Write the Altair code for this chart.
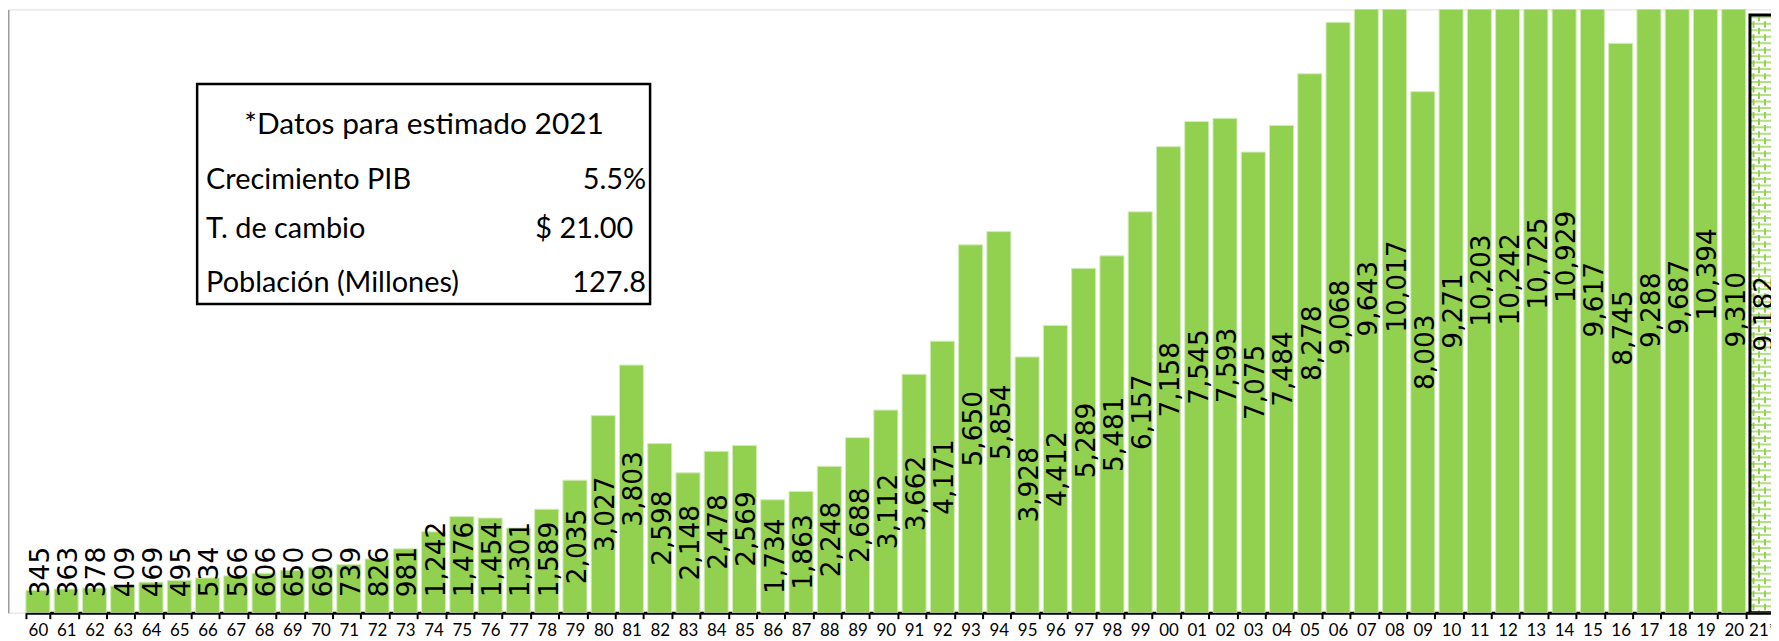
import altair as alt
import pandas as pd

# ---- data ----
years = ["60", "61", "62", "63", "64", "65", "66", "67", "68", "69",
         "70", "71", "72", "73", "74", "75", "76", "77", "78", "79",
         "80", "81", "82", "83", "84", "85", "86", "87", "88", "89",
         "90", "91", "92", "93", "94", "95", "96", "97", "98", "99",
         "00", "01", "02", "03", "04", "05", "06", "07", "08", "09",
         "10", "11", "12", "13", "14", "15", "16", "17", "18", "19",
         "20", "21*"]
values = [345, 363, 378, 409, 469, 495, 534, 566, 606, 650,
          690, 739, 826, 981, 1242, 1476, 1454, 1301, 1589, 2035,
          3027, 3803, 2598, 2148, 2478, 2569, 1734, 1863, 2248, 2688,
          3112, 3662, 4171, 5650, 5854, 3928, 4412, 5289, 5481, 6157,
          7158, 7545, 7593, 7075, 7484, 8278, 9068, 9643, 10017, 8003,
          9271, 10203, 10242, 10725, 10929, 9617, 8745, 9288, 9687, 10394,
          9310, 9182]
estimated = [False] * 61 + [True]

box_title = "*Datos para estimado 2021"
box_rows = ["Crecimiento PIB", "T. de cambio", "Población (Millones)"]
box_vals = ["5.5%", "$ 21.00", "127.8"]

# ---- layout ----
W = 1771
H = 606
YMAX = 9266
PX = H / YMAX
GREEN = "#92D050"
LFS = 26.5  # bar label font size

df = pd.DataFrame({"year": years, "value": values, "est": estimated})

xenc = alt.X(
    "year:N", sort=years,
    scale=alt.Scale(range=[18, 1774], paddingInner=0.15, paddingOuter=0),
    axis=alt.Axis(title=None, labelFont="Lato", labelFontSize=17, labelColor="black",
                  labelAngle=0, domainColor="black", domainWidth=3, tickColor="black",
                  tickWidth=2, tickSize=6, tickBand="extent", labelPadding=4),
)
yscale = alt.Scale(domain=[0, YMAX], nice=False, zero=True)
yaxis = alt.Axis(title=None, labels=False, ticks=False, grid=False,
                 domainColor="#9a9a9a", domainWidth=2)

base = alt.Chart(df)

bars = base.transform_filter("!datum.est").mark_bar(
    color=GREEN, stroke="#d2ecb8", strokeWidth=1, clip=True
).encode(x=xenc, y=alt.Y("value:Q", scale=yscale, axis=yaxis))

est_fill = base.transform_filter("datum.est").mark_bar(
    fill="white", clip=True
).encode(x=xenc, y=alt.Y("value:Q", scale=yscale, axis=yaxis))

brick_rows = alt.Chart(
    alt.sequence(start=0, stop=values[-1], step=99.4, as_="v")
).transform_calculate(year='"21*"').mark_tick(
    orient="horizontal", color=GREEN, thickness=2, size=24, clip=True
).encode(x=xenc, y=alt.Y("v:Q", scale=yscale, axis=yaxis))

joints = []
for off, dash_off in [(-3, 0), (-8.5, 6.5), (3, 6.5)]:
    joints.append(
        base.transform_filter("datum.est").mark_rule(
            color=GREEN, strokeWidth=2, strokeDash=[6.5, 6.5],
            strokeDashOffset=dash_off, xOffset=off, clip=True
        ).encode(x=xenc, y=alt.Y("value:Q", scale=yscale, axis=yaxis), y2=alt.datum(0))
    )

est_outline = base.transform_filter("datum.est").mark_bar(
    fillOpacity=0, stroke="black", strokeWidth=3, clip=True
).encode(x=xenc, y=alt.Y("value:Q", scale=yscale, axis=yaxis))

labels = base.transform_calculate(
    lab="format(datum.value, ',')"
).transform_calculate(
    halfpx=f"(length(toString(datum.value)) * {0.636 * LFS} + (datum.value >= 1000 ? {0.318 * LFS} : 0)) / 2"
).transform_calculate(
    ypos=f"max(datum.value / 2, (15.6 + datum.halfpx) / {PX})"
).mark_text(
    angle=270, align="center", baseline="middle", font="DejaVu Sans",
    fontSize=LFS, color="black", dy=3, clip=True
).encode(x=xenc, y=alt.Y("ypos:Q", scale=yscale, axis=yaxis), text="lab:N")

one = alt.Chart(pd.DataFrame({"a": [0]}))
box = one.mark_rect(fill="white", stroke="black", strokeWidth=2.5).encode(
    x=alt.value(190), x2=alt.value(645), y=alt.value(75), y2=alt.value(296)
)

txt = [one.mark_text(font="Lato", fontSize=30, color="black", align="center",
                     baseline="alphabetic").encode(
    x=alt.value(418), y=alt.value(125), text=alt.value(box_title))]
row_y = [180, 230, 284]
val_x = [641, 628, 641]
for lab, val, ry, vx in zip(box_rows, box_vals, row_y, val_x):
    txt.append(one.mark_text(font="Lato", fontSize=29, color="black", align="left",
                             baseline="alphabetic").encode(
        x=alt.value(199), y=alt.value(ry), text=alt.value(lab)))
    txt.append(one.mark_text(font="Lato", fontSize=29, color="black", align="right",
                             baseline="alphabetic").encode(
        x=alt.value(vx), y=alt.value(ry), text=alt.value(val)))

chart = alt.layer(
    bars, est_fill, brick_rows, *joints, est_outline, labels, box, *txt
).properties(
    width=W, height=H,
    autosize=alt.AutoSizeParams(type="none"),
    padding={"left": 0, "top": 0, "right": 0, "bottom": 27},
).configure_view(stroke=None).configure(background="white")

chart.save("out.html", embed_options={"renderer": "svg", "actions": False})
